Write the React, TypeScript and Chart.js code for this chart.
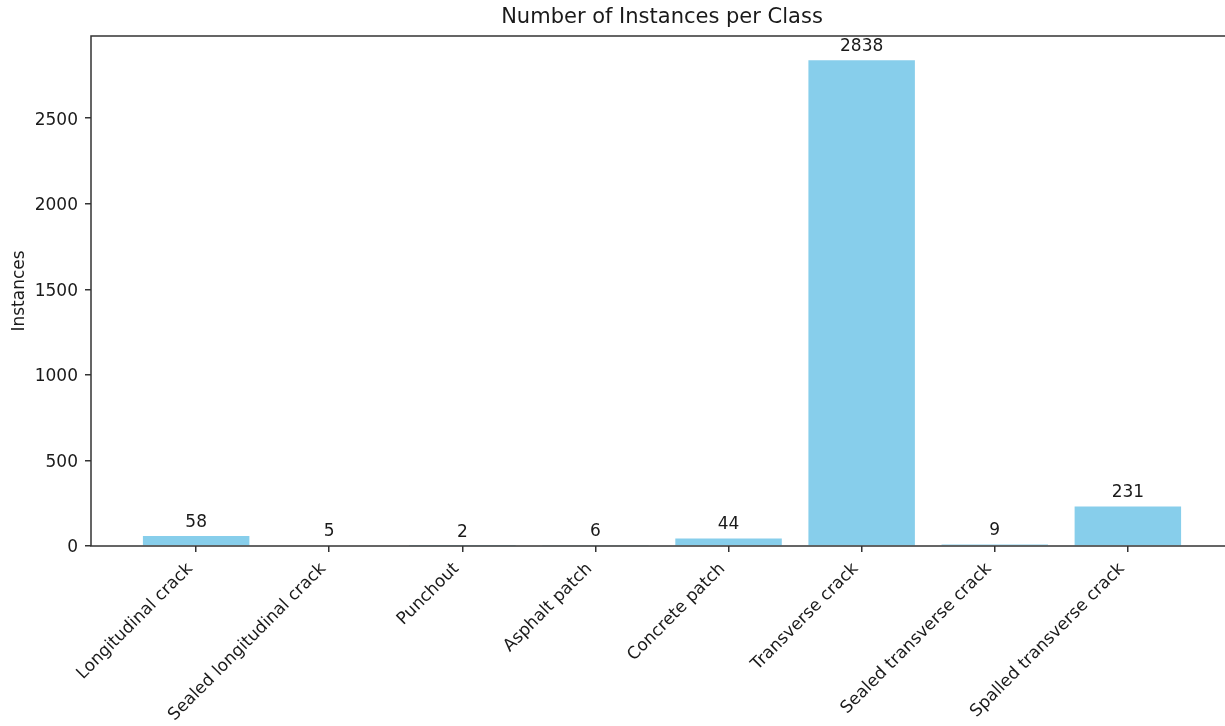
import React, { useEffect, useRef } from "react";
import { Chart, registerables } from "chart.js";

Chart.register(...registerables);

const categories = [
  "Longitudinal crack",
  "Sealed longitudinal crack",
  "Punchout",
  "Asphalt patch",
  "Concrete patch",
  "Transverse crack",
  "Sealed transverse crack",
  "Spalled transverse crack",
];
const instances = [58, 5, 2, 6, 44, 2838, 9, 231];
const yTicks = [0, 500, 1000, 1500, 2000, 2500];
const chartTitle = "Number of Instances per Class";
const yTitle = "Instances";

const FONT = "'DejaVu Sans', sans-serif";
const TEXT = "#1a1a1a";
const AXIS = "#333333";
const BAR = "#87CEEB";

const valueLabels = {
  id: "valueLabels",
  afterDatasetsDraw(chart: any) {
    const ctx = chart.ctx;
    const meta = chart.getDatasetMeta(0);
    ctx.save();
    ctx.font = `17px ${FONT}`;
    ctx.fillStyle = TEXT;
    ctx.textAlign = "center";
    ctx.textBaseline = "bottom";
    meta.data.forEach((bar: any, i: number) => {
      ctx.fillText(String(instances[i]), bar.x, bar.y - 5);
    });
    ctx.restore();
  },
};

const frame = {
  id: "frame",
  afterDraw(chart: any) {
    const { ctx, chartArea: a } = chart;
    ctx.save();
    ctx.strokeStyle = AXIS;
    ctx.lineWidth = 1.5;
    ctx.strokeRect(a.left, a.top, a.right - a.left, a.bottom - a.top);
    ctx.font = `21px ${FONT}`;
    ctx.fillStyle = TEXT;
    ctx.textAlign = "center";
    ctx.textBaseline = "middle";
    ctx.fillText(chartTitle, (a.left + a.right) / 2, 18);
    ctx.restore();
  },
};

export default function App() {
  const ref = useRef<HTMLCanvasElement | null>(null);

  useEffect(() => {
    if (!ref.current) return;
    const chart = new Chart(ref.current, {
      type: "bar",
      data: {
        datasets: [
          {
            data: instances.map((v, i) => ({ x: i, y: v })),
            backgroundColor: BAR,
            borderWidth: 0,
            barPercentage: 0.8,
            categoryPercentage: 1.0,
          },
        ],
      },
      options: {
        animation: false,
        responsive: false,
        devicePixelRatio: 1,
        layout: { padding: { left: 0, right: 7, top: 36, bottom: 0 } },
        plugins: {
          legend: { display: false },
          tooltip: { enabled: false },
          title: { display: false },
        },
        scales: {
          x: {
            type: "linear",
            min: -0.79,
            max: 7.79,
            offset: false,
            afterBuildTicks: (scale: any) => {
              scale.ticks = categories.map((_, i) => ({ value: i }));
            },
            afterFit: (scale: any) => {
              scale.height = 180;
            },
            ticks: {
              autoSkip: false,
              maxRotation: 45,
              minRotation: 45,
              color: TEXT,
              font: { family: FONT, size: 17 },
              padding: 7,
              labelOffset: -6,
              callback: (v: any) => categories[Math.round(Number(v))] ?? "",
            },
            grid: {
              offset: false,
              drawOnChartArea: false,
              drawTicks: true,
              tickLength: 6,
              color: AXIS,
              lineWidth: 1.5,
            },
            border: { display: false },
          },
          y: {
            type: "linear",
            min: 0,
            max: 2979.9,
            afterBuildTicks: (scale: any) => {
              scale.ticks = yTicks.map((v) => ({ value: v }));
            },
            afterFit: (scale: any) => {
              scale.width = 91;
            },
            ticks: {
              color: TEXT,
              font: { family: FONT, size: 17 },
              padding: 7,
              labelOffset: 2,
              callback: (v: any) => String(v),
            },
            grid: {
              drawOnChartArea: false,
              drawTicks: true,
              tickLength: 6,
              color: AXIS,
              lineWidth: 1.5,
            },
            border: { display: false },
            title: {
              display: true,
              text: yTitle,
              color: TEXT,
              font: { family: FONT, size: 17 },
              padding: { top: 9, bottom: 0 },
            },
          },
        },
      },
      plugins: [valueLabels, frame],
    } as any);
    return () => chart.destroy();
  }, []);

  return (
    <div
      style={{
        position: "fixed",
        left: 0,
        top: 0,
        width: 1225,
        height: 726,
        overflow: "hidden",
        background: "#ffffff",
      }}
    >
      <canvas ref={ref} width={1240} height={726} style={{ display: "block" }} />
    </div>
  );
}
